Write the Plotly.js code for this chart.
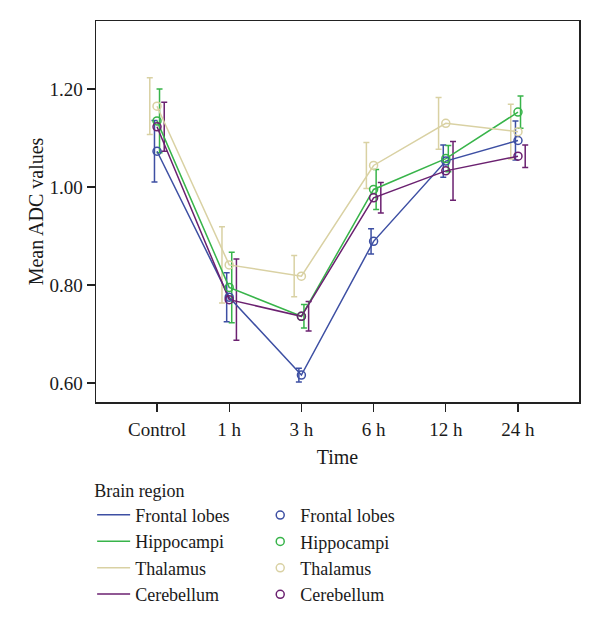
<!DOCTYPE html>
<html>
<head>
<meta charset="utf-8">
<script src="https://cdn.plot.ly/plotly-3.0.1.min.js"></script>
<style>html,body{margin:0;padding:0;background:#fff;}#chart{width:600px;height:623px;}</style>
</head>
<body>
<div id="chart"></div>
<script>
// ---- data ----
var timeLabels = ['Control', '1 h', '3 h', '6 h', '12 h', '24 h'];
var regions = ['Frontal lobes', 'Hippocampi', 'Thalamus', 'Cerebellum'];

var frontalMean = [1.073, 0.775, 0.616, 0.889, 1.053, 1.095];
var frontalErr  = [0.063, 0.050, 0.014, 0.026, 0.033, 0.040];

var hippoMean   = [1.135, 0.795, 0.736, 0.995, 1.058, 1.153];
var hippoErr    = [0.065, 0.072, 0.024, 0.041, 0.027, 0.033];

var thalamusMean = [1.165, 0.841, 0.818, 1.044, 1.130, 1.113];
var thalamusErr  = [0.058, 0.078, 0.042, 0.047, 0.053, 0.056];

var cerebMean   = [1.123, 0.770, 0.736, 0.978, 1.033, 1.063];
var cerebErr    = [0.050, 0.083, 0.030, 0.031, 0.060, 0.023];

var yTicks = [0.60, 0.80, 1.00, 1.20];
var yTickLabels = ['0.60', '0.80', '1.00', '1.20'];

// ---- styling ----
var colors = ['#3d4fa3', '#38b44a', '#d9d1a3', '#6b2170'];
var dodge = [-0.035, 0.035, -0.1, 0.1];
var means = [frontalMean, hippoMean, thalamusMean, cerebMean];
var errs = [frontalErr, hippoErr, thalamusErr, cerebErr];
var FONT = 'Liberation Serif, Times New Roman, serif';

var xIdx = timeLabels.map(function (_, i) { return i; });
var traces = [];

// error bars (dodged)
regions.forEach(function (r, k) {
  traces.push({
    type: 'scatter', mode: 'markers',
    x: xIdx.map(function (i) { return i + dodge[k]; }),
    y: means[k],
    marker: { size: 1, color: 'rgba(0,0,0,0)' },
    error_y: { type: 'data', array: errs[k], visible: true, color: colors[k], thickness: 1.5, width: 3 },
    showlegend: false, hoverinfo: 'skip'
  });
});
// lines (legend column 1)
regions.forEach(function (r, k) {
  traces.push({
    type: 'scatter', mode: 'lines', name: r,
    x: xIdx, y: means[k],
    line: { color: colors[k], width: 1.5 },
    legend: 'legend', hoverinfo: 'skip'
  });
});
// markers (legend column 2)
regions.forEach(function (r, k) {
  traces.push({
    type: 'scatter', mode: 'markers', name: r,
    x: xIdx, y: means[k],
    marker: { symbol: 'circle-open', size: 8, color: colors[k], line: { width: 1.5, color: colors[k] } },
    legend: 'legend2', hoverinfo: 'skip'
  });
});

var layout = {
  width: 600, height: 623,
  margin: { l: 96, r: 21, t: 21, b: 221, autoexpand: false },
  paper_bgcolor: '#fff', plot_bgcolor: '#fff',
  font: { family: FONT, size: 18, color: '#1a1a1a' },
  xaxis: {
    range: [-0.845, 5.845],
    tickmode: 'array', tickvals: xIdx, ticktext: timeLabels,
    ticks: 'outside', ticklen: 8, tickwidth: 1.2, tickcolor: '#222',
    ticklabelstandoff: 2,
    showgrid: false, zeroline: false,
    showline: true, linecolor: '#222', linewidth: 1.5, mirror: true,
    tickfont: { family: FONT, size: 19, color: '#1a1a1a' },
    title: { text: 'Time', font: { family: FONT, size: 20, color: '#1a1a1a' }, standoff: 10 }
  },
  yaxis: {
    range: [0.561, 1.339],
    tickmode: 'array', tickvals: yTicks, ticktext: yTickLabels,
    ticks: 'outside', ticklen: 8, tickwidth: 1.2, tickcolor: '#222',
    showgrid: false, zeroline: false,
    showline: true, linecolor: '#222', linewidth: 1.5, mirror: true,
    tickfont: { family: FONT, size: 19, color: '#1a1a1a' },
    title: { text: 'Mean ADC values', font: { family: FONT, size: 20, color: '#1a1a1a' }, standoff: 0 }
  },
  legend: {
    x: -0.008, xanchor: 'left', y: -0.187, yanchor: 'top',
    title: { text: 'Brain region', font: { family: FONT, size: 18, color: '#1a1a1a' } },
    font: { family: FONT, size: 18, color: '#1a1a1a' },
    itemwidth: 33,
    bgcolor: 'rgba(0,0,0,0)', tracegroupgap: 0
  },
  legend2: {
    x: 0.34, xanchor: 'left', y: -0.249, yanchor: 'top',
    font: { family: FONT, size: 18, color: '#1a1a1a' },
    bgcolor: 'rgba(0,0,0,0)', tracegroupgap: 0
  },
  showlegend: true
};

Plotly.newPlot('chart', traces, layout, { displayModeBar: false, staticPlot: true });
</script>
</body>
</html>
